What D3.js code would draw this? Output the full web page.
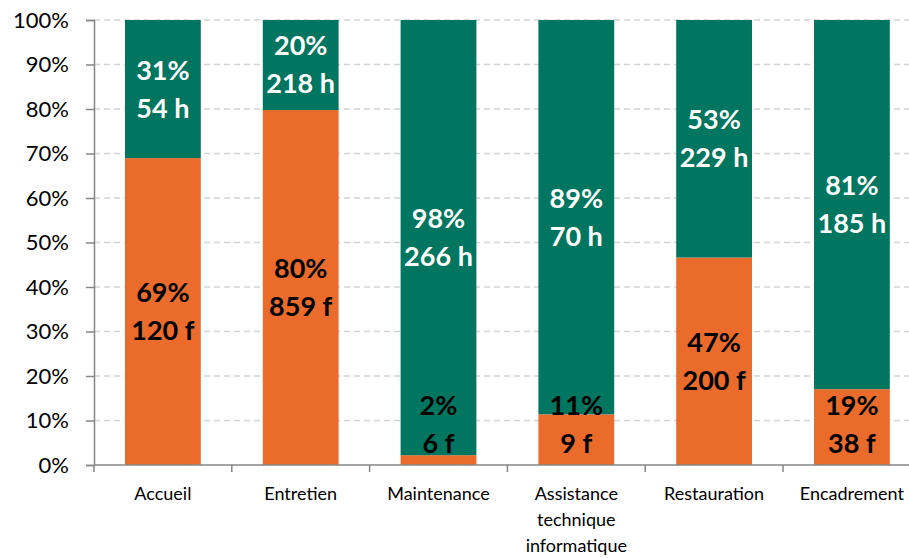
<!DOCTYPE html>
<html>
<head>
<meta charset="utf-8">
<script src="https://cdn.jsdelivr.net/npm/d3@7"></script>
<style>
  body { margin: 0; background: #fff; }
  svg { display: block; font-family: Lato, "Open Sans", sans-serif; }
</style>
</head>
<body>
<svg id="chart" width="909" height="558"></svg>
<script>
// categories, counts (bar heights come from these) and printed percentage labels
const categories = ["Accueil", "Entretien", "Maintenance", "Assistance technique informatique", "Restauration", "Encadrement"];
const femmesCount = [120, 859, 6, 9, 200, 38];
const hommesCount = [54, 218, 266, 70, 229, 185];
const femmesLabel = [69, 80, 2, 11, 47, 19];
const hommesLabel = [31, 20, 98, 89, 53, 81];
const yTicks = [0, 10, 20, 30, 40, 50, 60, 70, 80, 90, 100];

const ORANGE = "#EA6B2B";
const GREEN = "#00755F";

const svg = d3.select("#chart");
const margin = { top: 20, left: 94, bottom: 93 };
const plotH = 558 - margin.top - margin.bottom;
const step = 137.8;

const x = d3.scaleBand()
  .domain(categories)
  .range([margin.left, margin.left + step * categories.length])
  .paddingInner(0.45)
  .paddingOuter(0.225);

const y = d3.scaleLinear().domain([0, 100]).range([margin.top + plotH, margin.top]);

// dashed gridlines
svg.append("g")
  .selectAll("line")
  .data(yTicks.filter(d => d > 0))
  .enter()
  .append("line")
  .attr("x1", margin.left).attr("x2", 909)
  .attr("y1", d => y(d)).attr("y2", d => y(d))
  .attr("stroke", "#D4D4D4")
  .attr("stroke-width", 1.3)
  .attr("stroke-dasharray", "6,4");

// stacked 100% bars
const rows = categories.map((c, i) => {
  const tot = femmesCount[i] + hommesCount[i];
  return { cat: c, f: 100 * femmesCount[i] / tot, fl: femmesLabel[i], hl: hommesLabel[i], fc: femmesCount[i], hc: hommesCount[i] };
});

const bars = svg.append("g");
bars.selectAll(".f").data(rows).enter().append("rect")
  .attr("x", d => x(d.cat)).attr("width", x.bandwidth())
  .attr("y", d => y(d.f)).attr("height", d => y(0) - y(d.f))
  .attr("fill", ORANGE);
bars.selectAll(".h").data(rows).enter().append("rect")
  .attr("x", d => x(d.cat)).attr("width", x.bandwidth())
  .attr("y", d => y(100)).attr("height", d => y(d.f) - y(100))
  .attr("fill", GREEN);

// y axis
const yAxis = d3.axisLeft(y).tickValues(yTicks).tickFormat(d => d + "%").tickSize(8).tickPadding(17);
const gy = svg.append("g").attr("transform", `translate(${margin.left},0)`).call(yAxis);
gy.select(".domain").attr("stroke", "#868686").attr("stroke-width", 1.5);
gy.selectAll(".tick line").attr("stroke", "#868686").attr("stroke-width", 1.5);
gy.selectAll(".tick text").attr("font-size", 22).attr("fill", "#000").attr("font-family", "Lato, sans-serif");

// x axis baseline and ticks at band boundaries
const xAxisG = svg.append("g");
xAxisG.append("line")
  .attr("x1", margin.left).attr("x2", 909)
  .attr("y1", y(0)).attr("y2", y(0))
  .attr("stroke", "#868686").attr("stroke-width", 1.5);
xAxisG.selectAll(".xt").data(d3.range(categories.length + 1)).enter().append("line")
  .attr("x1", i => margin.left + i * step).attr("x2", i => margin.left + i * step)
  .attr("y1", y(0)).attr("y2", y(0) + 7)
  .attr("stroke", "#868686").attr("stroke-width", 1.5);

// category labels (wrapped)
const wrap = { "Assistance technique informatique": ["Assistance", "technique", "informatique"] };
xAxisG.selectAll(".xl").data(categories).enter().append("text")
  .attr("text-anchor", "middle")
  .attr("font-size", 18)
  .attr("fill", "#000")
  .each(function (c) {
    const lines = wrap[c] || [c];
    const t = d3.select(this);
    lines.forEach((l, i) => {
      t.append("tspan")
        .attr("x", x(c) + x.bandwidth() / 2)
        .attr("y", y(0) + 35 + i * 26)
        .text(l);
    });
  });

// data labels: two lines centred in segment, kept inside plot
function label(cx, cy, pct, count, unit, color) {
  const g = svg.append("g").attr("font-size", 27).attr("font-weight", "bold")
    .attr("fill", color).attr("text-anchor", "middle");
  g.append("text").attr("x", cx).attr("y", cy - 19).attr("dy", "0.35em").text(pct + "%");
  g.append("text").attr("x", cx).attr("y", cy + 19).attr("dy", "0.35em").text(count + " " + unit);
}

rows.forEach(d => {
  const cx = x(d.cat) + x.bandwidth() / 2;
  const fy = Math.min((y(0) + y(d.f)) / 2, y(0) - 40);
  const hy = (y(d.f) + y(100)) / 2;
  label(cx, fy, d.fl, d.fc, "f", "#000");
  label(cx, hy, d.hl, d.hc, "h", "#fff");
});
</script>
</body>
</html>
